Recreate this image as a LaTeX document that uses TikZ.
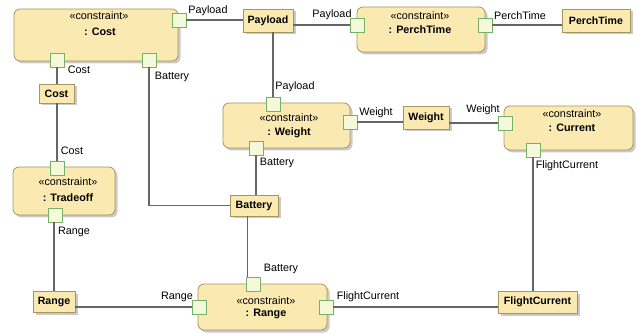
\documentclass[tikz,border=0pt]{standalone}
\usepackage{fontspec}
\setmainfont{Liberation Sans}
\usetikzlibrary{shadows,calc}

\definecolor{blockfill}{HTML}{FBE9B2}
\definecolor{blockline}{HTML}{A8945E}
\definecolor{portfill}{HTML}{F4F9DA}
\definecolor{portline}{HTML}{78B068}
\definecolor{wirecol}{HTML}{666666}

\tikzset{
  box/.style={draw=blockline, fill=blockfill, line width=0.8pt, inner sep=0pt,
    drop shadow={shadow xshift=2.5pt, shadow yshift=-2.5pt, opacity=0.35, fill=black!60}},
  cblock/.style={box, rounded corners=6pt},
  vblock/.style={box, font=\fontsize{10.6}{12}\selectfont\bfseries},
  port/.style={draw=portline, fill=portfill, line width=0.8pt, minimum size=14pt, inner sep=0pt},
  wire/.style={draw=wirecol, line width=1.1pt},
  tag/.style={font=\fontsize{10.8}{12}\selectfont, inner sep=0pt},
  pname/.style={font=\fontsize{10.8}{12}\selectfont\bfseries, inner sep=0pt},
}

\begin{document}
\begin{tikzpicture}[x=1pt, y=-1pt]
\useasboundingbox (0,0) rectangle (638,334);

% constraint properties
\node[cblock, minimum width=164pt, minimum height=52pt] (cCost)    at (96,35) {};
\node[cblock, minimum width=128pt, minimum height=45pt] (cPerch)   at (421,29.5) {};
\node[cblock, minimum width=127pt, minimum height=45pt] (cWeight)  at (286.5,125.5) {};
\node[cblock, minimum width=129pt, minimum height=44pt] (cCurrent) at (568.5,128) {};
\node[cblock, minimum width=102pt, minimum height=48pt] (cTrade)   at (64,191) {};
\node[cblock, minimum width=129pt, minimum height=46pt] (cRange)   at (262.5,307) {};

\node[tag]   (sCost)    at (99,16)   {«constraint»};
\node[pname] (nCost)    at (100,32)  {: Cost};
\node[tag]   (sPerch)   at (420,16)  {«constraint»};
\node[pname] (nPerch)   at (420,30)  {: PerchTime};
\node[tag]   (sWeight)  at (289,118) {«constraint»};
\node[pname] (nWeight)  at (289,133) {: Weight};
\node[tag]   (sCurrent) at (572,114) {«constraint»};
\node[pname] (nCurrent) at (572,128) {: Current};
\node[tag]   (sTrade)   at (68,182)  {«constraint»};
\node[pname] (nTrade)   at (68,198)  {: Tradeoff};
\node[tag]   (sRange)   at (266,301) {«constraint»};
\node[pname] (nRange)   at (266,314) {: Range};

% value properties
\node[vblock, minimum width=50pt, minimum height=23pt] (bPayload) at (268,20.5) {Payload};
\node[vblock, minimum width=68pt, minimum height=23pt] (bPerch)   at (596,20.5) {PerchTime};
\node[vblock, minimum width=35pt, minimum height=19pt] (bCost)    at (56.5,93.5) {Cost};
\node[vblock, minimum width=46pt, minimum height=23pt] (bWeight)  at (426,117.5) {Weight};
\node[vblock, minimum width=48pt, minimum height=21pt] (bBattery) at (254,205.5) {Battery};
\node[vblock, minimum width=42pt, minimum height=21pt] (bRange)   at (54,301.5) {Range};
\node[vblock, minimum width=79pt, minimum height=22pt] (bFC)      at (537.5,302) {FlightCurrent};

% ports
\node[port] (pCostPay)    at (179,20)  {};
\node[port] (pCostCost)   at (57,60)   {};
\node[port] (pCostBat)    at (149,60)  {};
\node[port] (pPerchPay)   at (357,25)  {};
\node[port] (pPerchTime)  at (485,25)  {};
\node[port] (pWeightPay)  at (273,104) {};
\node[port] (pWeightW)    at (350,122) {};
\node[port] (pWeightBat)  at (256,148) {};
\node[port] (pCurW)       at (505,123) {};
\node[port] (pCurFC)      at (533,150) {};
\node[port] (pTradeCost)  at (57,168)  {};
\node[port] (pTradeRange) at (55,215)  {};
\node[port] (pRangeBat)   at (253,284) {};
\node[port] (pRangeRange) at (199,307) {};
\node[port] (pRangeFC)    at (326,307) {};

% binding connectors
\draw[wire] (pCostPay.east) -- (pCostPay.east -| bPayload.west);
\draw[wire] (bPayload.east |- pPerchPay.west) -- (pPerchPay.west);
\draw[wire] (pPerchTime.east) -- (pPerchTime.east -| bPerch.west);
\draw[wire] (pCostCost.south) -- (pCostCost.south |- bCost.north);
\draw[wire] (bCost.south -| pTradeCost.north) -- (pTradeCost.north);
\draw[wire] ([xshift=-1pt]pTradeRange.south) -- ([xshift=-1pt]pTradeRange.south |- bRange.north);
\draw[wire] (bRange.east |- pRangeRange.west) -- (pRangeRange.west);
\draw[wire] (pCostBat.south) |- (bBattery.west);
\draw[wire] (pWeightPay.north) -- (pWeightPay.north |- bPayload.south);
\draw[wire] (pWeightBat.south) -- (pWeightBat.south |- bBattery.north);
\draw[wire] ([xshift=1.5pt]pRangeBat.north west) -- ([xshift=1.5pt]pRangeBat.north west |- bBattery.south);
\draw[wire] (pWeightW.east) -- (pWeightW.east -| bWeight.west);
\draw[wire] (bWeight.east |- pCurW.west) -- (pCurW.west);
\draw[wire] (pCurFC.south) -- (pCurFC.south |- bFC.north);
\draw[wire] (pRangeFC.east) -- (pRangeFC.east -| bFC.west);

% connector end labels
\node[tag] (lCostPay)    at (208,11)  {Payload};
\node[tag] (lCostCost)   at (79,70)   {Cost};
\node[tag] (lCostBat)    at (172,77)  {Battery};
\node[tag] (lPerchPay)   at (332,15)  {Payload};
\node[tag] (lPerchTime)  at (520,16)  {PerchTime};
\node[tag] (lWeightPay)  at (295,87)  {Payload};
\node[tag] (lWeightBat)  at (277,163) {Battery};
\node[tag] (lWeightW)    at (376,113) {Weight};
\node[tag] (lCurW)       at (483,110) {Weight};
\node[tag] (lCurFC)      at (567,166) {FlightCurrent};
\node[tag] (lTradeCost)  at (72,151)  {Cost};
\node[tag] (lTradeRange) at (74,232)  {Range};
\node[tag] (lRangeBat)   at (281,269) {Battery};
\node[tag] (lRangeRange) at (177,297) {Range};
\node[tag] (lRangeFC)    at (368,297) {FlightCurrent};
\end{tikzpicture}
\end{document}
